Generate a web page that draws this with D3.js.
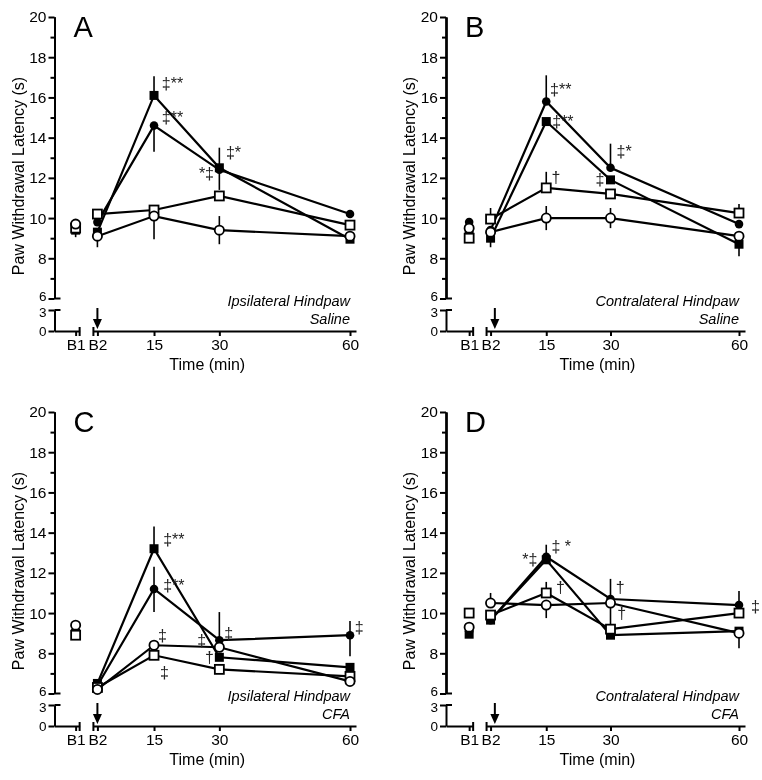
<!DOCTYPE html>
<html>
<head>
<meta charset="utf-8">
<script src="https://cdn.jsdelivr.net/npm/d3@7"></script>
<style>
  html, body { margin: 0; padding: 0; background: #fff; }
  svg { display: block; font-family: "Liberation Sans", Arial, Helvetica, sans-serif; }
</style>
</head>
<body>
<svg id="chart" width="762" height="780"></svg>
<script>
// ---------------- DATA ----------------
const timeLabels = ["B1", "B2", "15", "30", "60"];
const timeValues = [-3, 2, 15, 30, 60];      // minutes (B1/B2 = baselines)
const panelLetters = ["A", "B", "C", "D"];
const sideLabels = ["Ipsilateral Hindpaw", "Contralateral Hindpaw", "Ipsilateral Hindpaw", "Contralateral Hindpaw"];
const treatmentLabels = ["Saline", "Saline", "CFA", "CFA"];
const arrowTimes = [2, 3, 2, 3];
const yMajorTicks = [8, 10, 12, 14, 16, 18, 20];
const yBreakTick = [6];
const yMinorTicks = [7, 9, 11, 13, 15, 17, 19];
const yLowTicks = [0, 3];
const seriesKinds = ["filledSquare", "filledCircle", "openSquare", "openCircle"];

// Panel A (ipsilateral, saline)
const A_filledSquare = [9.4, 9.3, 16.1, 12.5, 8.95];
const A_filledCircle = [9.5, 9.8, 14.6, 12.4, 10.2];
const A_openSquare   = [9.5, 10.2, 10.4, 11.1, 9.65];
const A_openCircle   = [9.7, 9.1, 10.1, 9.4, 9.1];
// error bars: [down, up] per time point
const A_filledSquareErr = [[0.35,0],[0,0],[0,0.95],[0,1.0],[0,0]];
const A_filledCircleErr = [[0,0],[0,0],[1.3,0],[1.0,0],[0,0]];
const A_openSquareErr   = [[0,0],[0,0],[0,0],[0,0],[0,0]];
const A_openCircleErr   = [[0,0.2],[0.55,0],[1.15,0],[0.7,0.7],[0,0]];

// Panel B (contralateral, saline)
const B_filledSquare = [9.4, 9.0, 14.8, 11.9, 8.7];
const B_filledCircle = [9.8, 9.4, 15.8, 12.5, 9.7];
const B_openSquare   = [9.0, 9.95, 11.5, 11.2, 10.25];
const B_openCircle   = [9.5, 9.3, 10.0, 10.0, 9.1];
const B_filledSquareErr = [[0,0],[0.45,0],[0,0],[0,0],[0.6,0]];
const B_filledCircleErr = [[0,0.15],[0,0],[0,1.3],[0,1.2],[0,0]];
const B_openSquareErr   = [[0.2,0],[0,0.55],[0,0.8],[0,0],[0,0.45]];
const B_openCircleErr   = [[0,0],[0,0],[0.6,0.6],[0.5,0.5],[0,0]];

// Panel C (ipsilateral, CFA)
const C_filledSquare = [9.0, 6.5, 13.2, 7.8, 7.3];
const C_filledCircle = [9.1, 6.4, 11.2, 8.65, 8.9];
const C_openSquare   = [8.9, 6.3, 7.9, 7.2, 6.85];
const C_openCircle   = [9.4, 6.2, 8.4, 8.3, 6.6];
const C_filledSquareErr = [[0,0],[0,0],[0,1.1],[0,0],[0,0]];
const C_filledCircleErr = [[0,0],[0,0],[1.15,1.1],[0,1.4],[1.05,0.7]];
const C_openSquareErr   = [[0,0],[0,0],[0,0],[0,0],[0,0]];
const C_openCircleErr   = [[0,0],[0,0],[0,0],[0,0],[0,0]];

// Panel D (contralateral, CFA)
const D_filledSquare = [8.95, 9.65, 12.65, 8.9, 9.1];
const D_filledCircle = [9.1, 9.65, 12.8, 10.7, 10.4];
const D_openSquare   = [10.0, 9.9, 11.0, 9.2, 10.0];
const D_openCircle   = [9.3, 10.5, 10.4, 10.5, 9.0];
const D_filledSquareErr = [[0,0],[0,0],[0,0],[0,0],[0,0]];
const D_filledCircleErr = [[0,0],[0,0],[0,0.6],[0,1.0],[0,0.7]];
const D_openSquareErr   = [[0,0],[0,0],[0,0.55],[0,0],[0,0]];
const D_openCircleErr   = [[0,0],[0,0.5],[0.65,0],[1.5,0],[0.75,0]];

// significance annotations: text, time, value
const A_notes = [["‡**", 16.8, 16.7], ["‡**", 16.8, 15.0], ["‡*", 31.5, 13.25], ["*‡", 25.3, 12.2]];
const B_notes = [["‡**", 15.9, 16.4], ["‡**", 16.4, 14.8], ["†", 16.2, 12.0], ["‡", 26.5, 11.9], ["‡*", 31.4, 13.3]];
const C_notes = [["‡**", 17.1, 13.65], ["‡**", 17.1, 11.36], ["‡", 15.9, 8.91], ["‡", 16.4, 7.07],
                 ["‡", 24.9, 8.62], ["†", 26.7, 7.82], ["‡", 31.1, 9.01], ["‡", 61.1, 9.31]];
const D_notes = [["‡ *", 16.2, 13.3], ["*‡", 9.4, 12.65], ["†", 17.3, 11.26], ["†", 31.2, 11.26],
                 ["†", 31.6, 9.96], ["‡", 62.8, 10.31]];

const panelSeries = [
  [A_filledSquare, A_filledCircle, A_openSquare, A_openCircle],
  [B_filledSquare, B_filledCircle, B_openSquare, B_openCircle],
  [C_filledSquare, C_filledCircle, C_openSquare, C_openCircle],
  [D_filledSquare, D_filledCircle, D_openSquare, D_openCircle]
];
const panelErrors = [
  [A_filledSquareErr, A_filledCircleErr, A_openSquareErr, A_openCircleErr],
  [B_filledSquareErr, B_filledCircleErr, B_openSquareErr, B_openCircleErr],
  [C_filledSquareErr, C_filledCircleErr, C_openSquareErr, C_openCircleErr],
  [D_filledSquareErr, D_filledCircleErr, D_openSquareErr, D_openCircleErr]
];
const panelNotes = [A_notes, B_notes, C_notes, D_notes];

// ---------------- LAYOUT ----------------
const columns = [
  { axisX: 54.5, x0: 88.7, x60: 350 },
  { axisX: 446, x0: 482, x60: 739 }
];
const rowOffsets = [0, 395];
const yTopRange = [298.5, 17];   // 6 -> 20
const yLowRange = [331, 310];    // 0 -> 3

const svg = d3.select("#chart");
const defs = svg.append("defs");
defs.append("filter").attr("id", "flat").attr("x", 0).attr("y", 0).attr("width", 762).attr("height", 780)
  .attr("filterUnits", "userSpaceOnUse")
  .append("feOffset").attr("dx", 0).attr("dy", 0);
const root = svg.append("g").attr("filter", "url(#flat)");
root.append("rect").attr("width", 762).attr("height", 780).attr("fill", "#fff");

panelLetters.forEach((letter, pi) => {
  const col = columns[pi % 2];
  const oy = rowOffsets[Math.floor(pi / 2)];
  const g = root.append("g").attr("transform", `translate(0,${oy})`);

  const x = d3.scaleLinear().domain([0, 60]).range([col.x0, col.x60]);
  const y = d3.scaleLinear().domain([6, 20]).range(yTopRange);
  const yLow = d3.scaleLinear().domain([0, 3]).range(yLowRange);

  const axisStyle = (size) => sel => {
    sel.selectAll("path.domain").attr("stroke", "#000").attr("stroke-width", 2);
    sel.selectAll(".tick line").attr("stroke", "#000").attr("stroke-width", 2);
    sel.selectAll(".tick text").attr("font-size", size).attr("fill", "#000")
       .attr("font-family", "'Liberation Sans', Arial, sans-serif");
  };
  const intFmt = d3.format("d");

  // Y axis top segment (6-20)
  g.append("g").attr("transform", `translate(${col.axisX},0)`)
    .call(d3.axisLeft(y).tickValues(yMajorTicks).tickFormat(intFmt).tickSize(6).tickSizeOuter(0).tickPadding(2))
    .call(axisStyle(15.5));
  // tick at the break (6), label nudged up slightly
  const y6 = g.append("g").attr("transform", `translate(${col.axisX},0)`)
    .call(d3.axisLeft(y).tickValues(yBreakTick).tickFormat(intFmt).tickSize(6).tickSizeOuter(0).tickPadding(2))
    .call(axisStyle(13.5));
  y6.selectAll(".tick text").attr("dy", "0.12em");
  g.append("g").attr("transform", `translate(${col.axisX},0)`)
    .call(d3.axisLeft(y).tickValues(yMinorTicks).tickSize(4).tickSizeOuter(0).tickFormat(""))
    .call(axisStyle(15.5));
  // Y axis low segment (0-3)
  const yl = g.append("g").attr("transform", `translate(${col.axisX},0)`)
    .call(d3.axisLeft(yLow).tickValues(yLowTicks).tickFormat(intFmt).tickSize(6).tickSizeOuter(0).tickPadding(2))
    .call(axisStyle(13.5));
  yl.selectAll(".tick text").attr("dy", d => d === 3 ? "0.5em" : "0.32em");
  // break caps
  [y(6), yLow(3)].forEach(yy => {
    g.append("line").attr("x1", col.axisX).attr("x2", col.axisX + 6)
      .attr("y1", yy).attr("y2", yy).attr("stroke", "#000").attr("stroke-width", 2);
  });

  // X axis, two segments
  const seg1End = x(timeValues[0]) + 4;
  const seg2Start = x(timeValues[1]) - 4;
  const seg2End = x(60) + 6;
  const xs1 = x.copy().domain([x.invert(col.axisX), x.invert(seg1End)]).range([col.axisX, seg1End]);
  const xs2 = x.copy().domain([x.invert(seg2Start), x.invert(seg2End)]).range([seg2Start, seg2End]);
  const fmt = t => timeLabels[timeValues.indexOf(t)];
  g.append("g").attr("transform", `translate(0,${yLow(0)})`)
    .call(d3.axisBottom(xs1).tickValues([timeValues[0]]).tickFormat(fmt).tickSize(5).tickSizeOuter(0).tickPadding(3))
    .call(axisStyle(15.5));
  g.append("g").attr("transform", `translate(0,${yLow(0)})`)
    .call(d3.axisBottom(xs2).tickValues(timeValues.slice(1)).tickFormat(fmt).tickSize(5).tickSizeOuter(0).tickPadding(3))
    .call(axisStyle(15.5));
  [seg1End, seg2Start].forEach(xx => {
    g.append("line").attr("x1", xx).attr("x2", xx)
      .attr("y1", yLow(0) - 4).attr("y2", yLow(0) + 5)
      .attr("stroke", "#000").attr("stroke-width", 2);
  });

  // injection arrow
  const ax = x(arrowTimes[pi]);
  g.append("line").attr("x1", ax).attr("x2", ax).attr("y1", yLow(3) - 2).attr("y2", yLow(0) - 9)
    .attr("stroke", "#000").attr("stroke-width", 2);
  g.append("path")
    .attr("d", `M${ax - 4.5},${yLow(0) - 12} L${ax + 4.5},${yLow(0) - 12} L${ax},${yLow(0) - 2} Z`)
    .attr("fill", "#000");

  // axis titles
  g.append("text").attr("x", (col.axisX + x(60)) / 2 + 5).attr("y", 370)
    .attr("text-anchor", "middle").attr("font-size", 16).text("Time (min)");
  g.append("text").attr("transform", `translate(${col.axisX - 31},176) rotate(-90)`)
    .attr("text-anchor", "middle").attr("font-size", 16).text("Paw Withdrawal Latency (s)");

  // panel letter
  g.append("text").attr("x", col.axisX + 19).attr("y", 37)
    .attr("font-size", 29).text(letter);

  // condition labels
  g.append("text").attr("x", x(60)).attr("y", 306).attr("text-anchor", "end")
    .attr("font-size", 14.5).attr("font-style", "italic").text(sideLabels[pi]);
  g.append("text").attr("x", x(60)).attr("y", 324).attr("text-anchor", "end")
    .attr("font-size", 14.5).attr("font-style", "italic").text(treatmentLabels[pi]);

  // series lines (B2 -> 60 only)
  const line = d3.line().x(d => x(d[0])).y(d => y(d[1]));
  const series = panelSeries[pi];
  const errs = panelErrors[pi];
  series.forEach(vals => {
    const pts = timeValues.slice(1).map((t, i) => [t, vals[i + 1]]);
    g.append("path").attr("d", line(pts)).attr("fill", "none")
      .attr("stroke", "#000").attr("stroke-width", 2.2).attr("stroke-linejoin", "miter");
  });

  // error bars
  series.forEach((vals, si) => {
    vals.forEach((v, i) => {
      const [dn, up] = errs[si][i];
      if (dn === 0 && up === 0) return;
      g.append("line").attr("x1", x(timeValues[i])).attr("x2", x(timeValues[i]))
        .attr("y1", y(v - dn)).attr("y2", y(v + up))
        .attr("stroke", "#000").attr("stroke-width", 1.6);
    });
  });

  // markers
  series.forEach((vals, si) => {
    const kind = seriesKinds[si];
    vals.forEach((v, i) => {
      const cx = x(timeValues[i]), cy = y(v);
      if (kind === "filledSquare") {
        g.append("rect").attr("x", cx - 4.5).attr("y", cy - 4.5).attr("width", 9).attr("height", 9)
          .attr("fill", "#000");
      } else if (kind === "filledCircle") {
        g.append("circle").attr("cx", cx).attr("cy", cy).attr("r", 4.3).attr("fill", "#000");
      } else if (kind === "openSquare") {
        g.append("rect").attr("x", cx - 4.5).attr("y", cy - 4.5).attr("width", 9).attr("height", 9)
          .attr("fill", "#fff").attr("stroke", "#000").attr("stroke-width", 1.8);
      } else {
        g.append("circle").attr("cx", cx).attr("cy", cy).attr("r", 4.6)
          .attr("fill", "#fff").attr("stroke", "#000").attr("stroke-width", 1.8);
      }
    });
  });

  // significance notes
  panelNotes[pi].forEach(([txt, t, v]) => {
    g.append("text").attr("x", x(t)).attr("y", y(v)).attr("dy", "0.35em")
      .attr("font-size", 16).attr("fill", "#222").text(txt);
  });
});
</script>
</body>
</html>
